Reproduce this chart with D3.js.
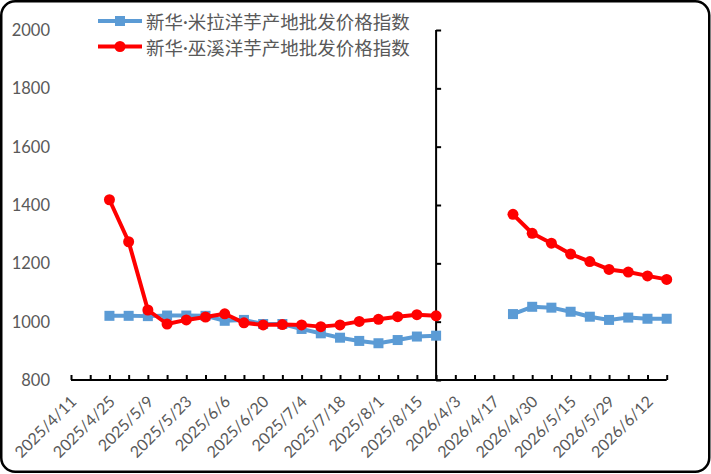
<!DOCTYPE html>
<html><head><meta charset="utf-8">
<script src="https://cdn.jsdelivr.net/npm/d3@7"></script>
<style>
html,body{margin:0;padding:0;background:#fff;}
svg{display:block;}
</style></head>
<body><svg id="c" width="711" height="474"></svg>
<script>
const categories = [
 "2025/4/11","2025/4/18","2025/4/25","2025/5/2","2025/5/9","2025/5/16","2025/5/23","2025/5/30",
 "2025/6/6","2025/6/13","2025/6/20","2025/6/27","2025/7/4","2025/7/11","2025/7/18","2025/7/25",
 "2025/8/1","2025/8/8","2025/8/15","2025/8/22","2026/4/3","2026/4/10","2026/4/17","2026/4/24",
 "2026/4/30","2026/5/8","2026/5/15","2026/5/22","2026/5/29","2026/6/5","2026/6/12","2026/6/19"
];
const seriesNames = ["新华·米拉洋芋产地批发价格指数","新华·巫溪洋芋产地批发价格指数"];
const milaValues = [
 null,null,1020,1020,1019,1021,1021,1020,1003,1006,992,992,975,960,945,934,926,937,949,952,
 null,null,null,1026,1051,1048,1034,1017,1006,1014,1010,1010
];
const wuxiValues = [
 null,null,1418,1274,1040,992,1006,1016,1027,996,989,990,989,983,989,1001,1008,1017,1024,1020,
 null,null,null,1368,1303,1269,1232,1206,1179,1170,1157,1145
];
const yTicks = [800,1000,1200,1400,1600,1800,2000];
const crossIndex = 19;

(function(){
const svg = d3.select("#c");
const pLeft = 71, pRight = 666.7, pTop = 30, pBottom = 380;
const x = d3.scalePoint().domain(d3.range(categories.length)).range([pLeft, pRight]);
const y = d3.scaleLinear().domain([800, 2000]).range([pBottom, pTop]);
const textColor = "#595959";

// border
svg.append("rect").attr("x",1.25).attr("y",1.25).attr("width",708).attr("height",470.5)
  .attr("rx",14).attr("fill","#fff").attr("stroke","#000").attr("stroke-width",2.5);

// y tick labels (low position)
svg.append("g").selectAll("text").data(yTicks).join("text")
  .attr("x",50).attr("y",d=>y(d)).attr("text-anchor","end").attr("dominant-baseline","central")
  .attr("font-family","Lato, 'Open Sans', sans-serif").attr("font-size","16.5px").attr("fill",textColor)
  .text(d=>d);

// vertical axis crossing at category
const yAxis = d3.axisRight(y).tickValues(yTicks).tickSize(5).tickFormat("");
const gy = svg.append("g").attr("transform",`translate(${x(crossIndex)},0)`).call(yAxis);
gy.select(".domain").attr("stroke","#000").attr("stroke-width",2).attr("d",`M0,${pTop}V${pBottom}`);
gy.selectAll(".tick line").attr("stroke","#000").attr("stroke-width",2);

// x axis
const xAxis = d3.axisTop(x).tickSize(5).tickFormat("");
const gx = svg.append("g").attr("transform",`translate(0,${pBottom})`).call(xAxis);
gx.select(".domain").attr("stroke","#000").attr("stroke-width",2).attr("d",`M${pLeft},0H${pRight}`);
gx.selectAll(".tick line").attr("stroke","#000").attr("stroke-width",2);

// x labels
svg.append("g").selectAll("text").data(d3.range(0,categories.length,2)).join("text")
  .attr("transform",i=>`translate(${x(i)+2},${pBottom+18}) rotate(-45)`)
  .attr("text-anchor","end").attr("dominant-baseline","central")
  .attr("font-family","Lato, 'Open Sans', sans-serif").attr("font-size","16px").attr("fill",textColor)
  .text(i=>categories[i]);

// series
const series = [
  {name: seriesNames[0], values: milaValues, color: "#5B9BD5", marker: "square"},
  {name: seriesNames[1], values: wuxiValues, color: "#FF0000", marker: "circle"}
];
const line = d3.line().defined(d=>d.v!=null).x(d=>x(d.i)).y(d=>y(d.v));
series.forEach(s=>{
  const pts = s.values.map((v,i)=>({i,v}));
  svg.append("path").datum(pts).attr("d",line).attr("fill","none")
    .attr("stroke",s.color).attr("stroke-width",4).attr("stroke-linejoin","round");
  const valid = pts.filter(d=>d.v!=null);
  if (s.marker==="square") {
    svg.append("g").selectAll("rect").data(valid).join("rect")
      .attr("x",d=>x(d.i)-5).attr("y",d=>y(d.v)-5).attr("width",10).attr("height",10).attr("fill",s.color);
  } else {
    svg.append("g").selectAll("circle").data(valid).join("circle")
      .attr("cx",d=>x(d.i)).attr("cy",d=>y(d.v)).attr("r",5.5).attr("fill",s.color);
  }
});

// legend
series.forEach((s,k)=>{
  const ly = 21 + k*25.5;
  const g = svg.append("g");
  g.append("line").attr("x1",98).attr("x2",142).attr("y1",ly).attr("y2",ly)
    .attr("stroke",s.color).attr("stroke-width",4);
  if (s.marker==="square") g.append("rect").attr("x",115).attr("y",ly-5).attr("width",10).attr("height",10).attr("fill",s.color);
  else g.append("circle").attr("cx",120).attr("cy",ly).attr("r",5.5).attr("fill",s.color);
  const t = g.append("text").attr("x",146).attr("y",ly).attr("dominant-baseline","central")
    .attr("font-family","'Noto Sans CJK SC', sans-serif").attr("font-size","18.5px").attr("fill",textColor);
  const parts = s.name.split("·");
  t.append("tspan").text(parts[0]);
  t.append("tspan").attr("font-family","Lato, sans-serif").text("·");
  t.append("tspan").text(parts[1]);
});
})();
</script></body></html>
